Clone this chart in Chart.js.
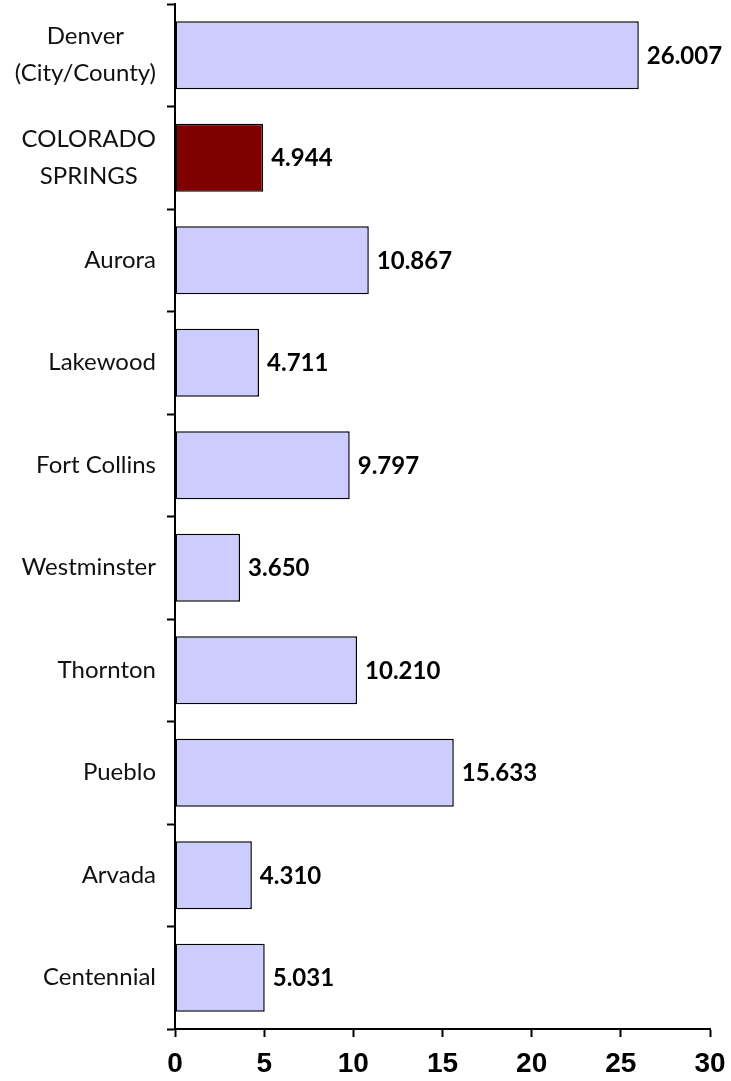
<!DOCTYPE html>
<html>
<head>
<meta charset="utf-8">
<script src="https://cdn.jsdelivr.net/npm/chart.js@4"></script>
<style>
  body { margin: 0; background: #fff; }
  #wrap { width: 731px; height: 1081px; }
</style>
</head>
<body>
<div id="wrap"><canvas id="cityChart"></canvas></div>
<script>
const ctx = document.getElementById('cityChart').getContext('2d');

// Data
const cities = [
    ['Denver', '(City/County)'],
    ['COLORADO', 'SPRINGS'],
    ['Aurora'],
    ['Lakewood'],
    ['Fort Collins'],
    ['Westminster'],
    ['Thornton'],
    ['Pueblo'],
    ['Arvada'],
    ['Centennial']
];
const values = [26.007, 4.944, 10.867, 4.711, 9.797, 3.650, 10.210, 15.633, 4.310, 5.031];
const barColors = ['#ccccff', '#800000', '#ccccff', '#ccccff', '#ccccff', '#ccccff', '#ccccff', '#ccccff', '#ccccff', '#ccccff'];
const xTicks = [0, 5, 10, 15, 20, 25, 30];

// category labels: block right aligned, lines centered within the block
const cityLabels = {
    id: 'cityLabels',
    afterDraw(chart) {
        const c = chart.ctx;
        const y = chart.scales.y;
        c.save();
        c.font = '24px Lato';
        c.fillStyle = '#111';
        c.textBaseline = 'middle';
        c.textAlign = 'center';
        const lineH = 37;
        cities.forEach((lines, i) => {
            const yc = y.getPixelForValue(i);
            const w = Math.max(...lines.map(l => c.measureText(l).width));
            const xc = 156 - w / 2;
            lines.forEach((l, j) => {
                c.fillText(l, xc, yc + (j - (lines.length - 1) / 2) * lineH);
            });
        });
        c.restore();
    }
};

// value labels at bar ends
const valueLabels = {
    id: 'valueLabels',
    afterDatasetsDraw(chart) {
        const c = chart.ctx;
        const meta = chart.getDatasetMeta(0);
        c.save();
        c.font = 'bold 24px Lato';
        c.fillStyle = '#000';
        c.textBaseline = 'middle';
        c.textAlign = 'left';
        meta.data.forEach((bar, i) => {
            c.fillText(values[i].toFixed(3), bar.x + 8, bar.y + 1);
        });
        c.restore();
    }
};

const cityChart = new Chart(ctx, {
    type: 'bar',
    data: {
        labels: cities,
        datasets: [{
            data: values,
            backgroundColor: barColors,
            borderColor: '#000',
            borderWidth: 1.5,
            borderSkipped: false,
            barPercentage: 0.663,
            categoryPercentage: 1
        }]
    },
    options: {
        indexAxis: 'y',
        responsive: true,
        maintainAspectRatio: false,
        animation: false,
        layout: { padding: { top: 4, right: 21, left: 0, bottom: 0 } },
        scales: {
            x: {
                min: 0,
                max: 30,
                afterBuildTicks: (scale) => { scale.ticks = xTicks.map(v => ({ value: v })); },
                afterFit: (scale) => {
                    scale.height = 52;
                    scale.paddingRight = 0;
                    scale.paddingLeft = 0;
                },
                border: { color: '#000', width: 2 },
                grid: { drawOnChartArea: false, tickLength: 8, tickWidth: 2, color: '#000' },
                ticks: {
                    color: '#000',
                    padding: 10,
                    font: { family: 'Liberation Sans', size: 28, weight: 'bold' }
                }
            },
            y: {
                afterFit: (scale) => { scale.width = 175; },
                border: { color: '#000', width: 2 },
                grid: { drawOnChartArea: false, offset: true, tickLength: 8, tickWidth: 2, color: '#000' },
                ticks: { display: false }
            }
        },
        plugins: {
            legend: { display: false },
            tooltip: { enabled: false }
        }
    },
    plugins: [cityLabels, valueLabels]
});
</script>
</body>
</html>
